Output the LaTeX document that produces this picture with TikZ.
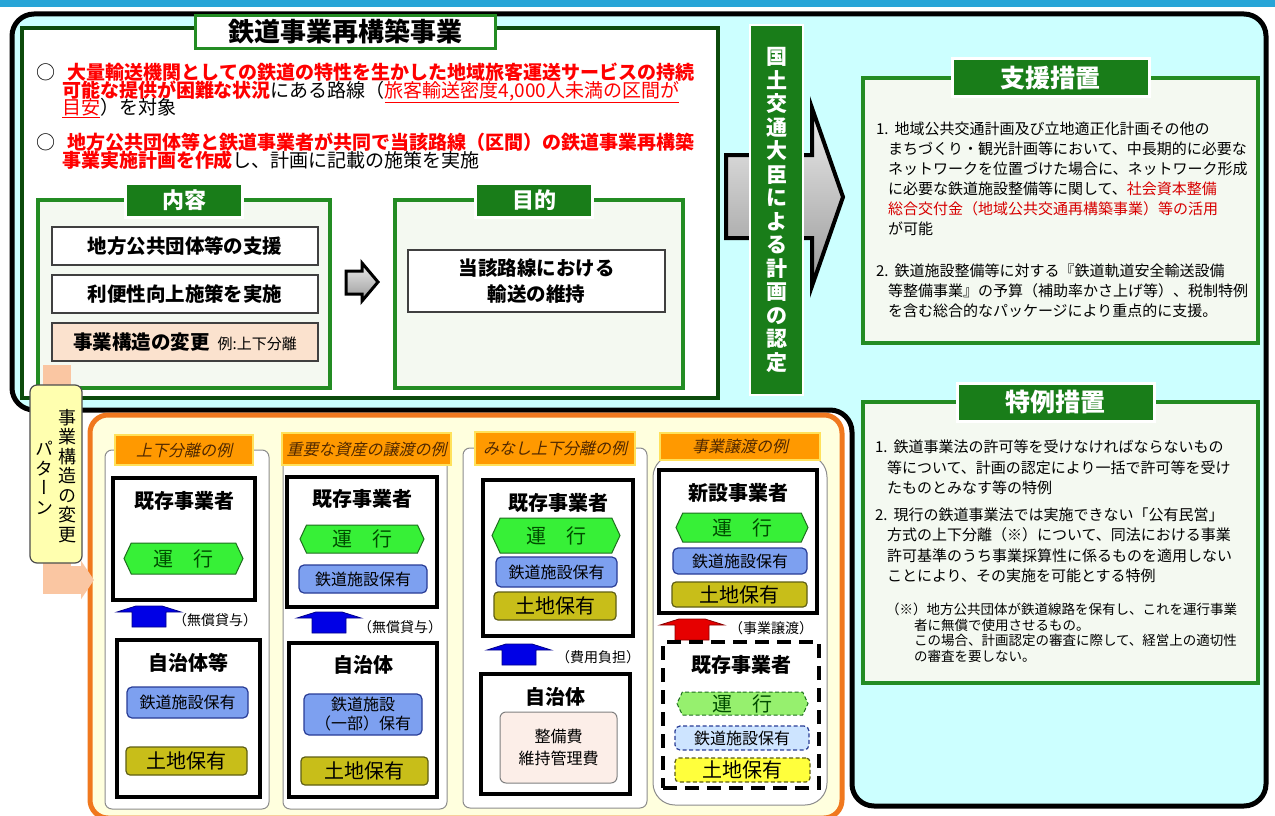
\documentclass[tikz,border=0pt]{standalone}
\usepackage{fontspec}
\setmainfont{Noto Sans CJK JP}
\newfontfamily\vertfont{Noto Sans CJK JP}[RawFeature={+vert}]
\newfontfamily\slantfont{Noto Sans CJK JP}[FakeSlant=0.22]
\usetikzlibrary{positioning,shapes.symbols,arrows.meta}

\definecolor{topblue}{RGB}{40,165,215}
\definecolor{skycyan}{RGB}{204,255,255}
\definecolor{deepgreen}{RGB}{12,75,12}
\definecolor{framegreen}{RGB}{35,140,35}
\definecolor{tabgreen}{RGB}{25,125,25}
\definecolor{panelfill}{RGB}{244,249,241}
\definecolor{peach}{RGB}{251,226,206}
\definecolor{flowpeach}{RGB}{250,198,162}
\definecolor{tabyellow}{RGB}{255,255,175}
\definecolor{patternorange}{RGB}{240,120,30}
\definecolor{patternfill}{RGB}{255,255,222}
\definecolor{labelorange}{RGB}{255,153,0}
\definecolor{labeledge}{RGB}{255,225,90}
\definecolor{labeltext}{RGB}{80,40,0}
\definecolor{rungreen}{RGB}{55,240,55}
\definecolor{runedge}{RGB}{30,110,30}
\definecolor{facblue}{RGB}{125,160,240}
\definecolor{facedge}{RGB}{40,60,150}
\definecolor{landolive}{RGB}{200,190,25}
\definecolor{landedge}{RGB}{95,95,20}
\definecolor{costbeige}{RGB}{252,238,232}
\definecolor{palegreen}{RGB}{150,240,110}
\definecolor{paleblue}{RGB}{205,228,255}
\definecolor{brightyellow}{RGB}{255,255,60}
\definecolor{lendblue}{RGB}{0,0,230}
\definecolor{handred}{RGB}{230,0,0}
\definecolor{notered}{RGB}{215,0,0}

\tikzset{
  every node/.style={inner sep=0pt, outer sep=0pt},
  outline/.style={draw=black, line width=5pt, rounded corners=22pt, fill=skycyan},
  mainbox/.style={draw=deepgreen, line width=4pt, fill=white},
  titletab/.style={draw=framegreen, line width=3pt, fill=white, font=\bfseries\fontsize{26}{30}\selectfont},
  bulletline/.style={anchor=north west, align=left, font=\fontsize{19}{17.5}\selectfont},
  greenframe/.style={draw=framegreen, line width=4pt, fill=panelfill},
  greentab/.style={fill=tabgreen, draw=white, line width=3pt, text=white, minimum width=117pt, minimum height=34pt, font=\bfseries\fontsize{22}{26}\selectfont},
  bigtab/.style={greentab, minimum width=197pt, minimum height=38pt, font=\bfseries\fontsize{25}{28}\selectfont},
  plainbox/.style={draw=black!75, line width=1.2pt, fill=white, minimum width=266pt, minimum height=38pt, align=center, font=\bfseries\fontsize{19.5}{26}\selectfont},
  flowarrow/.style={draw=black, line width=3pt, top color=gray!15, bottom color=gray!80},
  bodytext/.style={anchor=north west, align=left, font=\fontsize{15}{20}\selectfont},
  yellowtab/.style={draw=black!70, line width=1.2pt, rounded corners=7pt, fill=tabyellow},
  vertcol/.style={align=center, font=\vertfont\fontsize{18}{19.5}\selectfont},
  peachflow/.style={draw=flowpeach, line width=28pt, -{Triangle[length=13pt, width=38pt]}},
  patternbox/.style={draw=patternorange, line width=5pt, rounded corners=18pt, fill=patternfill},
  column/.style={draw=black!45, line width=1pt, rounded corners=7pt, fill=white},
  exlabel/.style={fill=labelorange, draw=labeledge, line width=2pt, text=labeltext, font=\slantfont\fontsize{16}{18}\selectfont},
  holder/.style={draw=black, line width=4pt, fill=white},
  holdername/.style={font=\bfseries\fontsize{20}{22}\selectfont},
  runhex/.style={signal, signal to=east and west, signal pointer angle=130, fill=rungreen, draw=runedge, line width=1pt, text=green!30!black, font=\fontsize{20}{22}\selectfont},
  facility/.style={rounded corners=5pt, fill=facblue, draw=facedge, line width=1.2pt, align=center, font=\fontsize{16}{20}\selectfont},
  land/.style={rounded corners=4pt, fill=landolive, draw=landedge, line width=1.2pt, font=\fontsize{20}{22}\selectfont},
  cost/.style={rounded corners=6pt, fill=costbeige, draw=black!50, line width=1pt, align=center, font=\fontsize{16}{22}\selectfont},
  retired/.style={dash pattern=on 4pt off 2.5pt},
  lendarrow/.style={fill=lendblue, draw=lendblue!60!black, line width=0.8pt},
  lendlabel/.style={anchor=west, font=\fontsize{14}{16}\selectfont},
  hatarrow/.pic={\path[pic actions] (-32,6) -- (-13,0) -- (13,0) -- (32,6) -- (17,6) -- (17,21) -- (-17,21) -- (-17,6) -- cycle;}
}

\begin{document}
\setlength{\lineskiplimit}{-30pt}
\begin{tikzpicture}[x=1pt, y=-1pt]
  \useasboundingbox (0,0) rectangle (1275,816);
  \fill[white] (0,0) rectangle (1275,816);
  \fill[topblue] (0,0) rectangle (1275,7);
  \draw[outline] (12,410) -- (12,14) -- (1266,14) -- (1266,806) -- (852,806) -- (852,410) -- cycle;

  \node[mainbox, minimum width=696pt, minimum height=370pt] (rebuild) at (370,213) {};
  \node[titletab, minimum width=300pt, minimum height=33pt] (rebuildtitle) at (345,32) {鉄道事業再構築事業};
  \node[bulletline] (target) at (36,63) {○\hspace*{13pt}{\color{red}\bfseries 大量輸送機関としての鉄道の特性を生かした地域旅客運送サービスの持続}\\
    \hspace*{26pt}{\color{red}\bfseries 可能な提供が困難な状況}にある路線（{\color{red}\underline{旅客輸送密度4,000人未満の区間が}}\\
    \hspace*{26pt}{\color{red}\underline{目安}}）を対象};
  \node[bulletline] (plan) at (36,133) {○\hspace*{13pt}{\color{red}\bfseries 地方公共団体等と鉄道事業者が共同で当該路線（区間）の鉄道事業再構築}\\
    \hspace*{26pt}{\color{red}\bfseries 事業実施計画を作成}し、計画に記載の施策を実施};

  \node[greenframe, minimum width=292pt, minimum height=188pt] (content) at (184,294) {};
  \node[greentab] (contenttab) at (content.north) {内容};
  \node[plainbox] (support) at (185,246) {地方公共団体等の支援};
  \node[plainbox, below=10pt of support] (convenience) {利便性向上施策を実施};
  \node[plainbox, fill=peach, below=10pt of convenience] (structure) {事業構造の変更\hspace{8pt}{\mdseries\fontsize{15}{17}\selectfont 例:上下分離}};

  \path[flowarrow] (346,271) -- (362,271) -- (362,263) -- (378,282) -- (362,301) -- (362,294) -- (346,294) -- cycle;

  \node[greenframe, minimum width=288pt, minimum height=188pt] (objective) at (539,294) {};
  \node[greentab] (objectivetab) at ([xshift=-5pt]objective.north) {目的};
  \node[plainbox, minimum width=257pt, minimum height=62pt] (keep) at (536.5,281) {当該路線における\\輸送の維持};

  \path[flowarrow, line width=4pt] (726,155) -- (812,155) -- (812,108) -- (843,197) -- (812,286) -- (812,238) -- (726,238) -- cycle;
  \node[fill=tabgreen, draw=white, line width=1.5pt, minimum width=53pt, minimum height=370pt, text=white, align=center,
        font=\bfseries\fontsize{21}{23.5}\selectfont] (approval) at (776.5,210)
        {国\\土\\交\\通\\大\\臣\\に\\よ\\る\\計\\画\\の\\認\\定};

  \node[greenframe, minimum width=395pt, minimum height=265pt] (assist) at (1060.5,210.5) {};
  \node[bigtab] (assisttab) at ([xshift=-10pt]assist.north) {支援措置};
  \node[bodytext] (assisttext) at (876,122) {1.\hspace*{6pt}地域公共交通計画及び立地適正化計画その他の\\
    \hspace*{12pt}まちづくり・観光計画等において、中長期的に必要な\\
    \hspace*{12pt}ネットワークを位置づけた場合に、ネットワーク形成\\
    \hspace*{12pt}に必要な鉄道施設整備等に関して、{\color{notered}社会資本整備}\\
    \hspace*{12pt}{\color{notered}総合交付金（地域公共交通再構築事業）等の活用}\\
    \hspace*{12pt}が可能\\[22pt]
    2.\hspace*{6pt}鉄道施設整備等に対する『鉄道軌道安全輸送設備\\
    \hspace*{12pt}等整備事業』の予算（補助率かさ上げ等）、税制特例\\
    \hspace*{12pt}を含む総合的なパッケージにより重点的に支援。};

  \node[greenframe, minimum width=395pt, minimum height=281pt] (special) at (1060.5,542.5) {};
  \node[bigtab] (specialtab) at ([xshift=-5pt]special.north) {特例措置};
  \node[bodytext, font=\fontsize{15}{20.5}\selectfont] (specialtext) at (875,440) {1.\hspace*{6pt}鉄道事業法の許可等を受けなければならないもの\\
    \hspace*{12pt}等について、計画の認定により一括で許可等を受け\\
    \hspace*{12pt}たものとみなす等の特例\\[6pt]
    2.\hspace*{6pt}現行の鉄道事業法では実施できない「公有民営」\\
    \hspace*{12pt}方式の上下分離（※）について、同法における事業\\
    \hspace*{12pt}許可基準のうち事業採算性に係るものを適用しない\\
    \hspace*{12pt}ことにより、その実施を可能とする特例};
  \node[bodytext, font=\fontsize{13.5}{15.5}\selectfont] (specialnote) at (886,603) {（※）地方公共団体が鉄道線路を保有し、これを運行事業\\
    \hspace*{28pt}者に無償で使用させるもの。\\
    \hspace*{28pt}この場合、計画認定の審査に際して、経営上の適切性\\
    \hspace*{28pt}の審査を要しない。};

  \node[patternbox, minimum width=752pt, minimum height=403pt] (patterns) at (466,616.5) {};
  \node[column, minimum width=164pt, minimum height=359pt] (splitcol) at (187,629.5) {};
  \node[column, minimum width=164pt, minimum height=359pt] (transfercol) at (365,629.5) {};
  \node[column, minimum width=184pt, minimum height=360pt] (deemedcol) at (555,628) {};
  \node[column, rounded corners=22pt, minimum width=174pt, minimum height=350pt] (businesscol) at (740,630) {};
  \node[exlabel, minimum width=138pt, minimum height=30pt] (splitlabel) at (184,450) {上下分離の例};
  \node[exlabel, minimum width=169pt, minimum height=32pt] (transferlabel) at (366.5,449) {重要な資産の譲渡の例};
  \node[exlabel, minimum width=160pt, minimum height=33pt] (deemedlabel) at (555,448.5) {みなし上下分離の例};
  \node[exlabel, minimum width=160pt, minimum height=27pt] (businesslabel) at (740,446.5) {事業譲渡の例};

  % 上下分離
  \node[holder, minimum width=142pt, minimum height=122pt] (splittop) at (184,539) {};
  \node[holdername, below=13pt of splittop.north] (splittopname) {既存事業者};
  \node[runhex, minimum width=119pt, minimum height=31pt] (splitrun) at (183.5,558.5) {運　行};
  \pic[lendarrow] at (149,606) {hatarrow};
  \node[lendlabel] (splitlend) at (173,620) {（無償貸与）};
  \node[holder, minimum width=143pt, minimum height=157pt] (splitbottom) at (188.5,718.5) {};
  \node[holdername, below=13pt of splitbottom.north] (splitbottomname) {自治体等};
  \node[facility, minimum width=121pt, minimum height=31pt] (splitfac) at (187.5,702.5) {鉄道施設保有};
  \node[land, minimum width=121pt, minimum height=28pt] (splitland) at (186.5,761) {土地保有};

  % 重要な資産の譲渡
  \node[holder, minimum width=150pt, minimum height=130pt] (transtop) at (362,542) {};
  \node[holdername, below=12pt of transtop.north] (transtopname) {既存事業者};
  \node[runhex, minimum width=124pt, minimum height=28pt] (transrun) at (362,539) {運　行};
  \node[facility, minimum width=128pt, minimum height=28pt] (transfac) at (363,579) {鉄道施設保有};
  \pic[lendarrow] at (329,612) {hatarrow};
  \node[lendlabel] (translend) at (358,627) {（無償貸与）};
  \node[holder, minimum width=148pt, minimum height=154pt] (transbottom) at (363,720) {};
  \node[holdername, below=12pt of transbottom.north] (transbottomname) {自治体};
  \node[facility, minimum width=118pt, minimum height=41pt, font=\fontsize{16}{19}\selectfont] (transpart) at (363,714.5) {鉄道施設\\（一部）保有};
  \node[land, minimum width=127pt, minimum height=28pt] (transland) at (364.5,771) {土地保有};

  % みなし上下分離
  \node[holder, minimum width=150pt, minimum height=156pt] (deemtop) at (558,558) {};
  \node[holdername, below=13pt of deemtop.north] (deemtopname) {既存事業者};
  \node[runhex, minimum width=128pt, minimum height=35pt] (deemrun) at (556,535.5) {運　行};
  \node[facility, minimum width=121pt, minimum height=30pt] (deemfac) at (556.5,572) {鉄道施設保有};
  \node[land, minimum width=122pt, minimum height=28pt] (deemland) at (555,606) {土地保有};
  \pic[lendarrow] at (519,644) {hatarrow};
  \node[lendlabel] (deemlend) at (556,657) {（費用負担）};
  \node[holder, minimum width=149pt, minimum height=120pt] (deembottom) at (555.5,734) {};
  \node[holdername, below=13pt of deembottom.north] (deembottomname) {自治体};
  \node[cost, minimum width=117pt, minimum height=71pt] (deemcost) at (558.5,747.5) {整備費\\維持管理費};

  % 事業譲渡
  \node[holder, minimum width=158pt, minimum height=143pt] (bustop) at (738,541.5) {};
  \node[holdername, below=13pt of bustop.north] (bustopname) {新設事業者};
  \node[runhex, minimum width=132pt, minimum height=29pt] (busrun) at (742,527.5) {運　行};
  \node[facility, minimum width=134pt, minimum height=26pt] (busfac) at (740,561) {鉄道施設保有};
  \node[land, minimum width=135pt, minimum height=25pt] (busland) at (739.5,594.5) {土地保有};
  \pic[lendarrow, fill=handred, draw=handred!60!black] at (692,619) {hatarrow};
  \node[lendlabel] (bushand) at (729,628) {（事業譲渡）};
  \node[holder, dash pattern=on 14pt off 8pt, minimum width=156pt, minimum height=146pt] (busold) at (741,715) {};
  \node[holdername, below=13pt of busold.north] (busoldname) {既存事業者};
  \node[runhex, retired, fill=palegreen, minimum width=131pt, minimum height=23pt] (busoldrun) at (742.5,703.5) {運　行};
  \node[facility, retired, fill=paleblue, minimum width=134pt, minimum height=24pt] (busoldfac) at (742,738) {鉄道施設保有};
  \node[land, retired, fill=brightyellow, minimum width=135pt, minimum height=24pt] (busoldland) at (742.5,770) {土地保有};

  \coordinate (flowend) at (94,580);
  \draw[peachflow] ([xshift=5pt, yshift=-4pt]structure.south west) |- (flowend);
  \node[yellowtab, minimum width=52pt, minimum height=178pt] (patterntab) at (56,474) {};
  \node[vertcol] (patterncol1) at (67,476) {事\\業\\構\\造\\の\\変\\更};
  \node[vertcol] (patterncol2) at (44,478) {パ\\タ\\ー\\ン};
\end{tikzpicture}
\end{document}
